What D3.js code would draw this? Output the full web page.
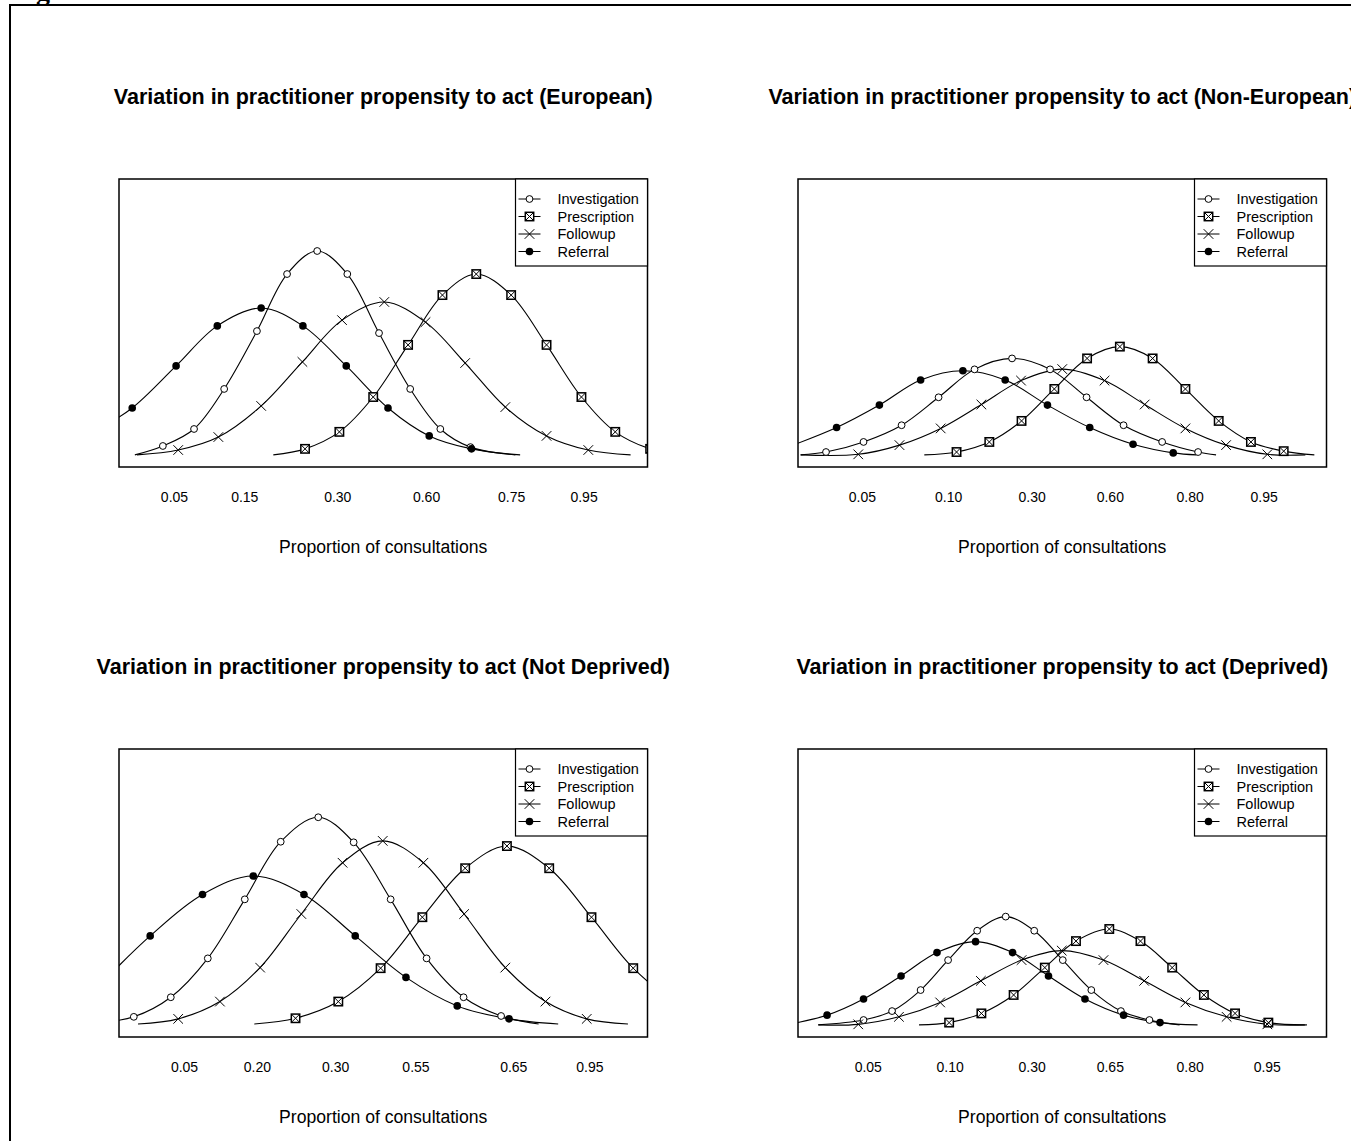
<!DOCTYPE html>
<html><head><meta charset="utf-8">
<script src="https://cdn.jsdelivr.net/npm/d3@7/dist/d3.min.js"></script>
<style>
html,body{margin:0;padding:0;background:#fff;overflow:hidden}
svg{display:block}
text{font-family:"Liberation Sans",Arial,sans-serif;fill:#000}
</style></head><body>
<svg id="chart" width="1351" height="1141"></svg>
<script>
// ---------- DATA (x: relative position 0-100 across plot, y: relative density 0-100) ----------
const seriesNames = ["Investigation", "Prescription", "Followup", "Referral"];
const panelTitles = [
  "Variation in practitioner propensity to act (European)",
  "Variation in practitioner propensity to act (Non-European)",
  "Variation in practitioner propensity to act (Not Deprived)",
  "Variation in practitioner propensity to act (Deprived)"
];
const xAxisTitle = "Proportion of consultations";

const tickLabelsEuropean    = ["0.05", "0.15", "0.30", "0.60", "0.75", "0.95"];
const tickLabelsNonEuropean = ["0.05", "0.10", "0.30", "0.60", "0.80", "0.95"];
const tickLabelsNotDeprived = ["0.05", "0.20", "0.30", "0.55", "0.65", "0.95"];
const tickLabelsDeprived    = ["0.05", "0.10", "0.30", "0.65", "0.80", "0.95"];

const tickPosEuropean    = [10.4, 23.7, 41.3, 58.1, 74.2, 87.9];
const tickPosNonEuropean = [12.1, 28.4, 44.2, 59.0, 74.1, 88.1];
const tickPosNotDeprived = [12.3, 26.1, 40.9, 56.1, 74.6, 89.0];
const tickPosDeprived    = [13.2, 28.7, 44.2, 59.0, 74.1, 88.7];

// first and last points are the curve tails (no marker)
const europeanInvestigation = [[3.0,4.2],[8.3,7.3],[14.2,13.2],[19.9,27.1],[26.1,47.2],[31.8,67.0],[37.5,75.0],[43.2,67.0],[49.2,46.5],[55.1,27.1],[60.8,13.2],[66.5,6.9],[75.0,4.2]];
const europeanPrescription  = [[29.2,4.2],[35.2,6.3],[41.7,12.2],[48.1,24.3],[54.7,42.4],[61.2,59.7],[67.6,67.0],[74.2,59.7],[80.9,42.4],[87.5,24.3],[93.9,12.2],[100.5,6.3],[107,4.2]];
const europeanFollowup      = [[3.4,4.2],[11.2,5.9],[18.8,10.4],[26.9,21.2],[34.7,36.5],[42.2,51.0],[50.2,57.3],[58.0,50.3],[65.5,36.1],[73.1,20.8],[80.9,10.8],[88.8,5.9],[96.8,4.2]];
const europeanReferral      = [[-3.6,13.5],[2.5,20.5],[10.8,35.1],[18.6,49.0],[26.9,55.2],[34.8,49.0],[43.0,35.1],[50.9,20.5],[58.7,10.8],[66.7,6.3],[75.9,4.2]];

const nonEuropeanInvestigation = [[0.5,4.2],[5.3,5.2],[12.4,8.7],[19.6,14.5],[26.6,24.2],[33.4,33.9],[40.5,37.7],[47.7,33.9],[54.6,24.2],[61.6,14.5],[68.9,8.7],[75.7,5.2],[79.1,4.2]];
const nonEuropeanPrescription  = [[23.9,4.2],[30.0,5.2],[36.2,8.7],[42.3,16.0],[48.5,27.1],[54.7,37.7],[60.9,41.8],[67.1,37.7],[73.3,27.1],[79.6,16.0],[85.7,8.7],[91.9,5.5],[97.7,4.2]];
const nonEuropeanFollowup      = [[0.5,4.2],[11.4,4.4],[19.2,7.6],[27.0,13.4],[34.7,21.7],[42.2,30.0],[50.0,34.0],[58.0,30.0],[65.6,21.7],[73.3,13.4],[81.0,7.6],[88.8,4.4],[96.0,4.2]];
const nonEuropeanReferral      = [[-3.4,5.9],[7.3,13.7],[15.4,21.5],[23.2,30.2],[31.2,33.4],[39.2,30.2],[47.2,21.5],[55.2,13.7],[63.4,7.9],[71.0,4.9],[75.4,4.2]];

const notDeprivedInvestigation = [[-2.7,5.2],[2.8,7.0],[9.8,13.8],[16.8,27.3],[23.8,47.8],[30.6,67.8],[37.7,76.3],[44.4,67.6],[51.4,47.8],[58.2,27.3],[65.2,13.8],[72.3,7.3],[79.4,4.5]];
const notDeprivedPrescription  = [[25.6,4.5],[33.4,6.5],[41.5,12.3],[49.5,23.9],[57.4,41.6],[65.5,58.6],[73.4,66.3],[81.4,58.6],[89.4,41.6],[97.3,23.9],[105.3,12.3],[113.3,6.6]];
const notDeprivedFollowup      = [[3.6,4.5],[11.2,6.3],[19.1,12.3],[26.7,24.1],[34.5,42.7],[42.3,60.5],[49.9,68.1],[57.6,60.5],[65.3,42.7],[73.1,24.1],[80.7,12.3],[88.5,6.3],[96.3,4.5]];
const notDeprivedReferral      = [[-3.6,18.1],[5.9,35.1],[15.8,49.5],[25.4,55.9],[35.0,49.5],[44.7,35.1],[54.3,20.7],[64.0,10.8],[73.8,6.3],[83.1,4.5]];

const deprivedInvestigation = [[3.8,4.2],[12.4,5.9],[17.8,9.0],[23.2,16.3],[28.4,26.7],[33.9,36.9],[39.3,41.8],[44.7,36.9],[50.1,26.7],[55.5,16.3],[61.1,9.0],[66.5,5.9],[72.2,4.2]];
const deprivedPrescription  = [[22.9,4.2],[28.6,5.0],[34.7,8.2],[40.8,14.6],[46.7,24.1],[52.6,33.3],[58.9,37.5],[64.8,33.3],[70.8,24.1],[76.8,14.6],[82.7,8.2],[89.0,5.0],[95.9,4.2]];
const deprivedFollowup      = [[3.9,4.2],[11.4,4.4],[19.1,7.0],[26.9,12.0],[34.6,19.5],[42.3,26.7],[49.9,30.0],[57.8,26.7],[65.5,19.5],[73.3,12.0],[81.1,7.0],[88.8,4.4],[96.3,4.2]];
const deprivedReferral      = [[-3.4,3.8],[5.5,7.6],[12.4,13.2],[19.5,21.2],[26.3,29.3],[33.6,33.1],[40.6,29.3],[47.4,21.2],[54.3,13.2],[61.6,7.6],[68.5,5.0],[75.6,4.2]];

// ---------- ASSEMBLY ----------
const panels = [
  {title: panelTitles[0], ticks: tickPosEuropean, labels: tickLabelsEuropean,
   series: [europeanInvestigation, europeanPrescription, europeanFollowup, europeanReferral]},
  {title: panelTitles[1], ticks: tickPosNonEuropean, labels: tickLabelsNonEuropean,
   series: [nonEuropeanInvestigation, nonEuropeanPrescription, nonEuropeanFollowup, nonEuropeanReferral]},
  {title: panelTitles[2], ticks: tickPosNotDeprived, labels: tickLabelsNotDeprived,
   series: [notDeprivedInvestigation, notDeprivedPrescription, notDeprivedFollowup, notDeprivedReferral]},
  {title: panelTitles[3], ticks: tickPosDeprived, labels: tickLabelsDeprived,
   series: [deprivedInvestigation, deprivedPrescription, deprivedFollowup, deprivedReferral]}
];

const svg = d3.select("#chart");

// figure frame and clipped caption
svg.append("path").attr("d", "M10,1150 V5 H1360")
  .attr("fill", "none").attr("stroke", "#000").attr("stroke-width", 2);
svg.append("text").attr("x", 11).attr("y", -0.5)
  .style("font-family", "'Liberation Serif','Times New Roman',serif")
  .style("font-weight", "bold").style("font-size", "28px").text("Figure 1");

const colLeft = [119, 798];
const rowTop = [179, 749];
const plotW = 528.5, plotH = 288;

function drawMarker(g, type, cx, cy) {
  if (type === 0) {
    g.append("circle").attr("cx", cx).attr("cy", cy).attr("r", 3.4)
      .attr("fill", "#fff").attr("stroke", "#000").attr("stroke-width", 1);
  } else if (type === 1) {
    const s = 4.2;
    g.append("rect").attr("x", cx - s).attr("y", cy - s).attr("width", 2 * s).attr("height", 2 * s)
      .attr("fill", "#fff").attr("stroke", "#000").attr("stroke-width", 1.5);
    g.append("path").attr("d", `M${cx - s},${cy - s}L${cx + s},${cy + s}M${cx + s},${cy - s}L${cx - s},${cy + s}`)
      .attr("stroke", "#000").attr("stroke-width", 1);
  } else if (type === 2) {
    const s = 4.8;
    g.append("path").attr("d", `M${cx - s},${cy - s}L${cx + s},${cy + s}M${cx + s},${cy - s}L${cx - s},${cy + s}`)
      .attr("stroke", "#000").attr("stroke-width", 1);
  } else {
    g.append("circle").attr("cx", cx).attr("cy", cy).attr("r", 3.8).attr("fill", "#000");
  }
}

panels.forEach((p, i) => {
  const left = colLeft[i % 2], top = rowTop[Math.floor(i / 2)];
  const g = svg.append("g").attr("transform", `translate(${left},${top})`);
  const x = d3.scaleLinear().domain([0, 100]).range([0, plotW]);
  const y = d3.scaleLinear().domain([0, 100]).range([plotH, 0]);

  const clipId = "clip" + i;
  g.append("clipPath").attr("id", clipId).append("rect")
    .attr("x", 0).attr("y", 0).attr("width", plotW).attr("height", plotH);

  // title
  g.append("text").attr("x", plotW / 2).attr("y", -75)
    .attr("text-anchor", "middle").style("font-weight", "bold").style("font-size", "21.5px")
    .text(p.title);

  const plot = g.append("g").attr("clip-path", `url(#${clipId})`);
  const line = d3.line().x(d => x(d[0])).y(d => y(d[1])).curve(d3.curveCatmullRom.alpha(0.5));

  p.series.forEach((pts, si) => {
    plot.append("path").attr("d", line(pts)).attr("fill", "none")
      .attr("stroke", "#000").attr("stroke-width", 1.1);
  });
  p.series.forEach((pts, si) => {
    const mg = plot.append("g");
    pts.slice(1, -1).forEach(d => drawMarker(mg, si, x(d[0]), y(d[1])));
  });

  // box
  g.append("rect").attr("x", 0).attr("y", 0).attr("width", plotW).attr("height", plotH)
    .attr("fill", "none").attr("stroke", "#000").attr("stroke-width", 1.5);

  // axis (labels only)
  const axis = d3.axisBottom(x).tickValues(p.ticks)
    .tickFormat((d, k) => p.labels[k]).tickSize(0).tickPadding(25);
  const ag = g.append("g").attr("transform", `translate(0,${plotH})`).call(axis);
  ag.select(".domain").remove();
  ag.selectAll("text").style("font-family", "'Liberation Sans',Arial,sans-serif")
    .style("font-size", "14px").attr("fill", "#000");

  g.append("text").attr("x", plotW / 2).attr("y", plotH + 86)
    .attr("text-anchor", "middle").style("font-size", "17.6px").text(xAxisTitle);

  // legend
  const lw = 132, lh = 87;
  const lg = g.append("g").attr("transform", `translate(${plotW - lw},0)`);
  lg.append("rect").attr("width", lw).attr("height", lh)
    .attr("fill", "#fff").attr("stroke", "#000").attr("stroke-width", 1.2);
  seriesNames.forEach((name, si) => {
    const ly = 20 + si * 17.5;
    lg.append("line").attr("x1", 3).attr("x2", 25).attr("y1", ly).attr("y2", ly)
      .attr("stroke", "#000").attr("stroke-width", 1);
    drawMarker(lg, si, 14, ly);
    lg.append("text").attr("x", 42).attr("y", ly).attr("dy", "0.36em")
      .style("font-size", "14.5px").text(name);
  });
});
</script>
</body></html>
